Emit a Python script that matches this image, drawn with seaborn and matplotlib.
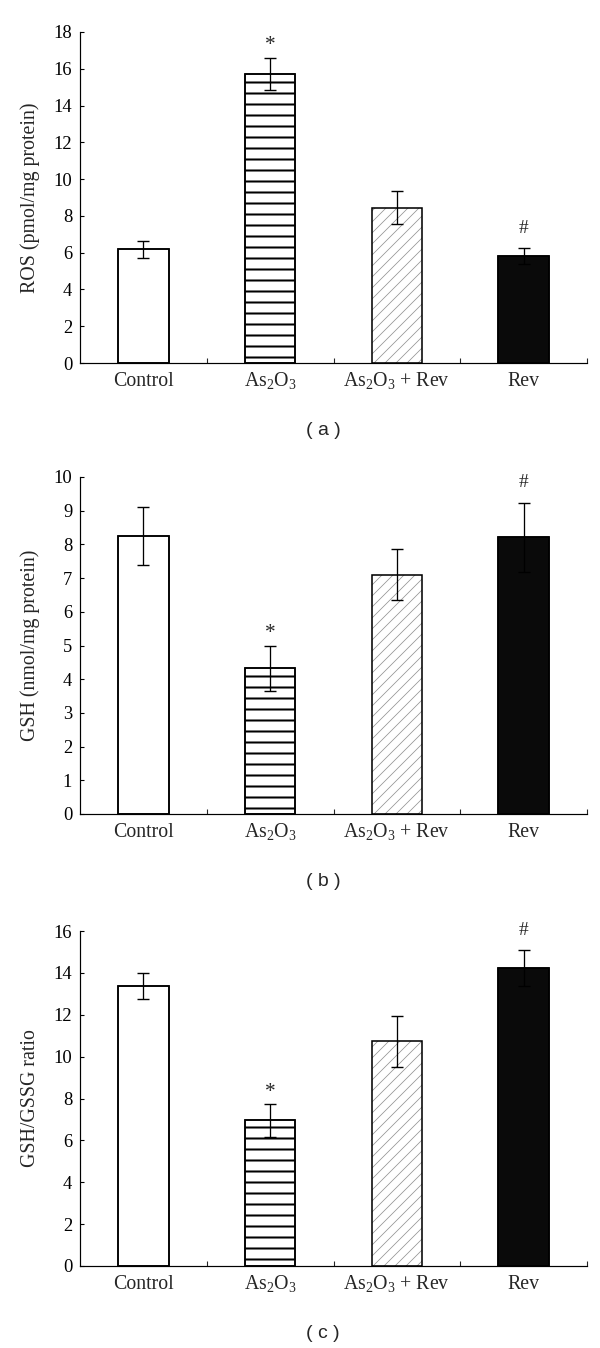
import numpy as np
import pandas as pd
import matplotlib
matplotlib.use("Agg")
import matplotlib.pyplot as plt
import seaborn as sns

# categories and values (mean, error)
groups = ["Control", "As$_2$O$_3$", "As$_2$O$_3$ + Rev", "Rev"]

ros_mean = [6.18, 15.73, 8.45, 5.82]
ros_err = [0.45, 0.88, 0.88, 0.43]

gsh_mean = [8.24, 4.32, 7.10, 8.21]
gsh_err = [0.86, 0.67, 0.76, 1.02]

ratio_mean = [13.36, 6.95, 10.73, 14.23]
ratio_err = [0.63, 0.77, 1.22, 0.86]

marks = ["", "*", "", "#"]

ylabels = ["ROS (pmol/mg protein)", "GSH (nmol/mg protein)", "GSH/GSSG ratio"]
ytick_sets = [list(range(0, 19, 2)), list(range(0, 11, 1)), list(range(0, 17, 2))]
panel_tags = ["( a )", "( b )", "( c )"]

# styling
DPI = 600 / 9
BAR_COLORS = ["white", "white", "white", "#0a0a0a"]
HATCHES = [None, "-", "//", None]
SERIF = "Liberation Serif"


def draw_panel(ax, means, errs, ylabel, ticks):
    df = pd.DataFrame({"group": groups, "value": means})
    sns.barplot(data=df, x="group", y="value", hue="group",
                palette=dict(zip(groups, BAR_COLORS)), width=0.4,
                edgecolor="black", linewidth=1.7, errorbar=None,
                legend=False, ax=ax)

    # hatching: thick black rules for As2O3, light grey slashes for As2O3 + Rev
    for patch, hatch in zip(ax.patches, HATCHES):
        if hatch == "-":
            patch.set_hatch(hatch)
            if hasattr(patch, "set_hatch_linewidth"):
                patch.set_hatch_linewidth(2.2)
        elif hatch == "//":
            patch.set_edgecolor("#909090")
            patch.set_linewidth(0)
            patch.set_hatch(hatch)
            if hasattr(patch, "set_hatch_linewidth"):
                patch.set_hatch_linewidth(0.8)

    # black outlines on top of the hatching
    sns.barplot(data=df, x="group", y="value", fill=False, color="black",
                width=0.4, linewidth=1.7, errorbar=None, ax=ax)

    xpos = np.arange(len(groups))
    ax.errorbar(xpos, means, yerr=errs, fmt="none", ecolor="black",
                elinewidth=1.4, capsize=7, capthick=1.5, zorder=5)

    for x, m, e, sym in zip(xpos, means, errs, marks):
        if sym:
            ax.annotate(sym, xy=(x, m + e), xytext=(0, 20 if sym == "#" else 12),
                        textcoords="offset pixels", ha="center", va="center",
                        fontsize=23 if sym == "*" else 21, family=SERIF)

    ax.set_xlim(-0.5, 3.5)
    ax.set_ylim(0, ticks[-1])
    ax.set_yticks(ticks)
    ax.set_xlabel("")
    ax.set_ylabel(ylabel, fontsize=21.5)
    ax.yaxis.set_label_coords(-0.078, 0.5)
    ax.tick_params(axis="y", direction="in", length=4, width=1.2,
                   labelsize=20, pad=8.5, colors="black")
    # x labels share one baseline, like the original
    ax.tick_params(axis="x", which="major", length=0, labelsize=21.5, pad=25)
    for lbl in ax.get_xticklabels():
        lbl.set_verticalalignment("baseline")
    ax.set_xticks([0.5, 1.5, 2.5, 3.5], minor=True)
    ax.tick_params(axis="x", which="minor", direction="in", length=5, width=1.2)
    sns.despine(ax=ax)
    for side in ["left", "bottom"]:
        ax.spines[side].set_linewidth(1.3)
        ax.spines[side].set_color("black")


sns.set_theme(style="ticks")
plt.rcParams["font.family"] = [SERIF, "DejaVu Serif"]
plt.rcParams["mathtext.fontset"] = "custom"
plt.rcParams["mathtext.rm"] = SERIF
plt.rcParams["mathtext.it"] = SERIF + ":italic"
plt.rcParams["mathtext.default"] = "regular"
plt.rcParams["hatch.linewidth"] = 2.2

fig = plt.figure(figsize=(9, 1348 / DPI), dpi=DPI)
H = 1348
# axes boxes in pixels: (top, bottom)
boxes = [(32, 363), (477, 814), (931, 1266)]
tag_y = [430, 881, 1333]
datasets = [(ros_mean, ros_err), (gsh_mean, gsh_err), (ratio_mean, ratio_err)]

for (top, bot), (m, e), lab, ticks, tag, ty in zip(boxes, datasets, ylabels,
                                                    ytick_sets, panel_tags, tag_y):
    ax = fig.add_axes([80 / 600, (H - bot) / H, 507 / 600, (bot - top) / H])
    draw_panel(ax, m, e, lab, ticks)
    fig.text(323 / 600, 1 - ty / H, tag, ha="center", va="center",
             family="Liberation Sans", fontsize=21)

fig.savefig("out.png", dpi=DPI, facecolor="white")
